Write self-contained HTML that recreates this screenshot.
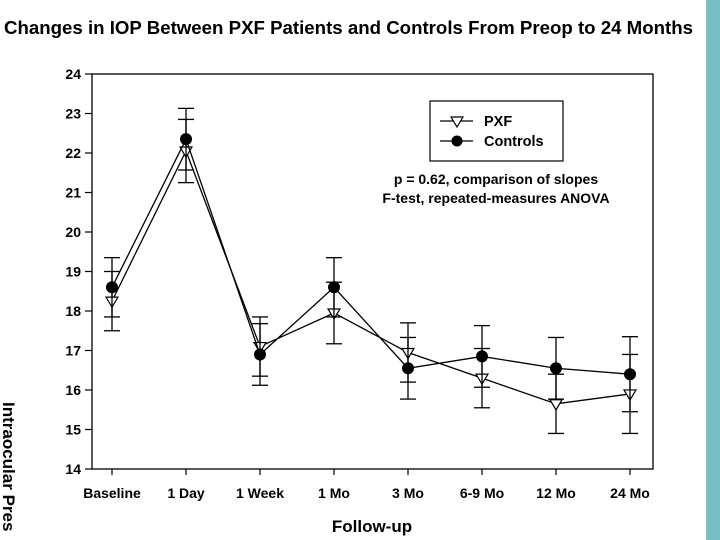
<!DOCTYPE html>
<html><head><meta charset="utf-8"><style>
html,body{margin:0;padding:0;background:#fff;width:720px;height:540px;overflow:hidden}
svg{display:block;font-family:"Liberation Sans",Arial,sans-serif;font-weight:bold;overflow:hidden}
</style></head><body>
<svg id="chart" width="720" height="540">
<rect x="706" y="0" width="14" height="540" fill="#76c0c4"/>
<text x="4" y="34" font-size="18.5" textLength="689" lengthAdjust="spacingAndGlyphs">Changes in IOP Between PXF Patients and Controls From Preop to 24 Months</text>
<text transform="translate(3,402) rotate(90)" font-size="17">Intraocular Pres</text>
<text x="372" y="532" font-size="17" text-anchor="middle">Follow-up</text>
<g id="axes"></g><g id="series"></g>
<g>
<rect x="430" y="101" width="133" height="60" fill="#fff" stroke="#000" stroke-width="1.2"/>
<g>
<line x1="440" y1="121" x2="473" y2="121" stroke="#000" stroke-width="1.3"/>
<path d="M451,117 L463,117 L457,127 Z" fill="#fff" stroke="#000" stroke-width="1.2"/>
<text x="484" y="126" font-size="14.5">PXF</text></g>
<g>
<line x1="440" y1="141" x2="473" y2="141" stroke="#000" stroke-width="1.3"/>
<circle cx="457" cy="141" r="5.5" fill="#000"/>
<text x="484" y="146" font-size="14.5">Controls</text></g>
</g>
<text x="496" y="184" font-size="14" text-anchor="middle">p = 0.62, comparison of slopes</text>
<text x="496" y="203" font-size="14" text-anchor="middle">F-test, repeated-measures ANOVA</text>
</svg>
<script>
const categories=["Baseline","1 Day","1 Week","1 Mo","3 Mo","6-9 Mo","12 Mo","24 Mo"];
const pxfValues=[18.25,22.05,17.1,17.95,16.95,16.3,15.65,15.9];
const pxfErrors=[0.75,0.8,0.75,0.78,0.75,0.75,0.75,1.0];
const controlValues=[18.6,22.35,16.9,18.6,16.55,16.85,16.55,16.4];
const controlErrors=[0.75,0.78,0.78,0.75,0.78,0.78,0.78,0.95];
const yTicks=[14,15,16,17,18,19,20,21,22,23,24];
const NS="http://www.w3.org/2000/svg";
const L=92,R=653,T=74,B=469,yMin=14,yMax=24;
function y(v){return B-(v-yMin)/(yMax-yMin)*(B-T);}
function x(i){return 112+i*(630-112)/(categories.length-1);}
function mk(tag,attrs,parent){const e=document.createElementNS(NS,tag);for(const k in attrs)e.setAttribute(k,attrs[k]);parent.appendChild(e);return e;}
const axes=document.getElementById('axes'),ser=document.getElementById('series');
mk('rect',{x:L,y:T,width:R-L,height:B-T,fill:'none',stroke:'#000','stroke-width':1.3},axes);
yTicks.forEach(t=>{
  const g=mk('g',{},axes);
  
  
  mk('line',{x1:L-7,x2:L,y1:y(t),y2:y(t),stroke:'#000','stroke-width':1.2},g);
  const tx=mk('text',{x:L-11,y:y(t)+5,'font-size':14,'text-anchor':'end'},g);tx.textContent=t;
});
categories.forEach((c,i)=>{
  const g=mk('g',{},axes);
  
  
  mk('line',{x1:x(i),x2:x(i),y1:B,y2:B+6,stroke:'#000','stroke-width':1.2},g);
  const tx=mk('text',{x:x(i),y:B+29,'font-size':14,'text-anchor':'middle'},g);tx.textContent=c;
});
function series(vals,errs,name,marker){
  const g=mk('g',{},ser);
  
  
  vals.forEach((v,i)=>{
    const e=errs[i];
    mk('line',{x1:x(i),x2:x(i),y1:y(v+e),y2:y(v-e),stroke:'#000','stroke-width':1.3},g);
    mk('line',{x1:x(i)-8,x2:x(i)+8,y1:y(v+e),y2:y(v+e),stroke:'#000','stroke-width':1.3},g);
    mk('line',{x1:x(i)-8,x2:x(i)+8,y1:y(v-e),y2:y(v-e),stroke:'#000','stroke-width':1.3},g);
  });
  const pl=mk('polyline',{points:vals.map((v,i)=>x(i)+','+y(v)).join(' '),fill:'none',stroke:'#000','stroke-width':1.3},g);
  
  vals.forEach((v,i)=>{
    let m;
    if(marker==='tri') m=mk('path',{d:`M${x(i)-6},${y(v)-4} L${x(i)+6},${y(v)-4} L${x(i)},${y(v)+6} Z`,fill:'#fff',stroke:'#000','stroke-width':1.2},g);
    else m=mk('circle',{cx:x(i),cy:y(v),r:6,fill:'#000'},g);
    
    
  });
}
series(pxfValues,pxfErrors,'pxf','tri');
series(controlValues,controlErrors,'controls','dot');
</script>
</body></html>
